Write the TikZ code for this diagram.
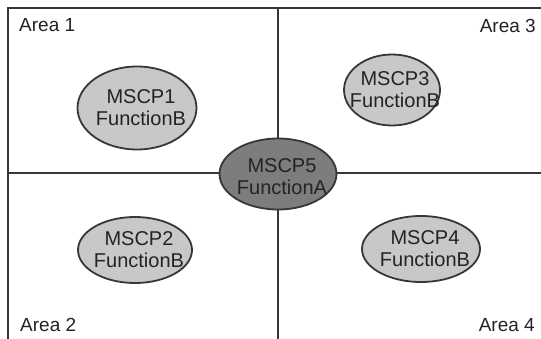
\documentclass[tikz,border=0pt]{standalone}
\usepackage{fontspec}
\setmainfont{Liberation Sans}
\usetikzlibrary{shapes.geometric}
\definecolor{linegray}{RGB}{55,55,55}
\definecolor{lightfill}{RGB}{200,200,200}
\definecolor{darkfill}{RGB}{125,125,125}
\definecolor{textgray}{RGB}{35,35,35}
\tikzset{
  border/.style={draw=linegray, line width=2.2pt},
  mscp/.style={ellipse, draw=linegray, line width=1.8pt, fill=lightfill, inner sep=0pt},
  mscpmain/.style={mscp, fill=darkfill},
  mscptext/.style={align=center, text=textgray, inner sep=0pt, xshift=4pt, font=\fontsize{20}{22}\selectfont},
  arealabel/.style={text=textgray, font=\fontsize{19}{21}\selectfont, inner sep=0pt}
}
\begin{document}
\begin{tikzpicture}[x=1pt,y=-1pt]
\useasboundingbox (0,0) rectangle (541,339);
\coordinate (tl) at (8,8);
\coordinate (tr) at (541,8);
\coordinate (bl) at (8,339);
\coordinate (ml) at (8,173);
\coordinate (mr) at (541,173);
\coordinate (mt) at (278,8);
\coordinate (mb) at (278,339);
\draw[border] (bl) -- (tl) -- (tr);
\draw[border] (ml) -- (mr);
\draw[border] (mt) -- (mb);

\node[mscp, minimum width=119pt, minimum height=83pt] (m1) at (137,108) {};
\node[mscptext] (t1) at (m1) {MSCP1\\FunctionB};
\node[mscp, minimum width=96pt, minimum height=71pt] (m3) at (392,90) {};
\node[mscptext, xshift=-1pt] (t3) at (m3) {MSCP3\\FunctionB};
\node[mscp, minimum width=114pt, minimum height=66pt] (m2) at (135,250) {};
\node[mscptext] (t2) at (m2) {MSCP2\\FunctionB};
\node[mscp, minimum width=118pt, minimum height=66pt] (m4) at (421,249) {};
\node[mscptext] (t4) at (m4) {MSCP4\\FunctionB};
\node[mscpmain, minimum width=117pt, minimum height=71pt] (m5) at (278,174) {};
\node[mscptext, yshift=-3pt] (t5) at (m5) {MSCP5\\FunctionA};

\node[arealabel, anchor=west] (a1) at (19,25) {Area 1};
\node[arealabel, anchor=east] (a3) at (536,26) {Area 3};
\node[arealabel, anchor=west] (a2) at (20,325) {Area 2};
\node[arealabel, anchor=east] (a4) at (535,325) {Area 4};
\end{tikzpicture}
\end{document}
